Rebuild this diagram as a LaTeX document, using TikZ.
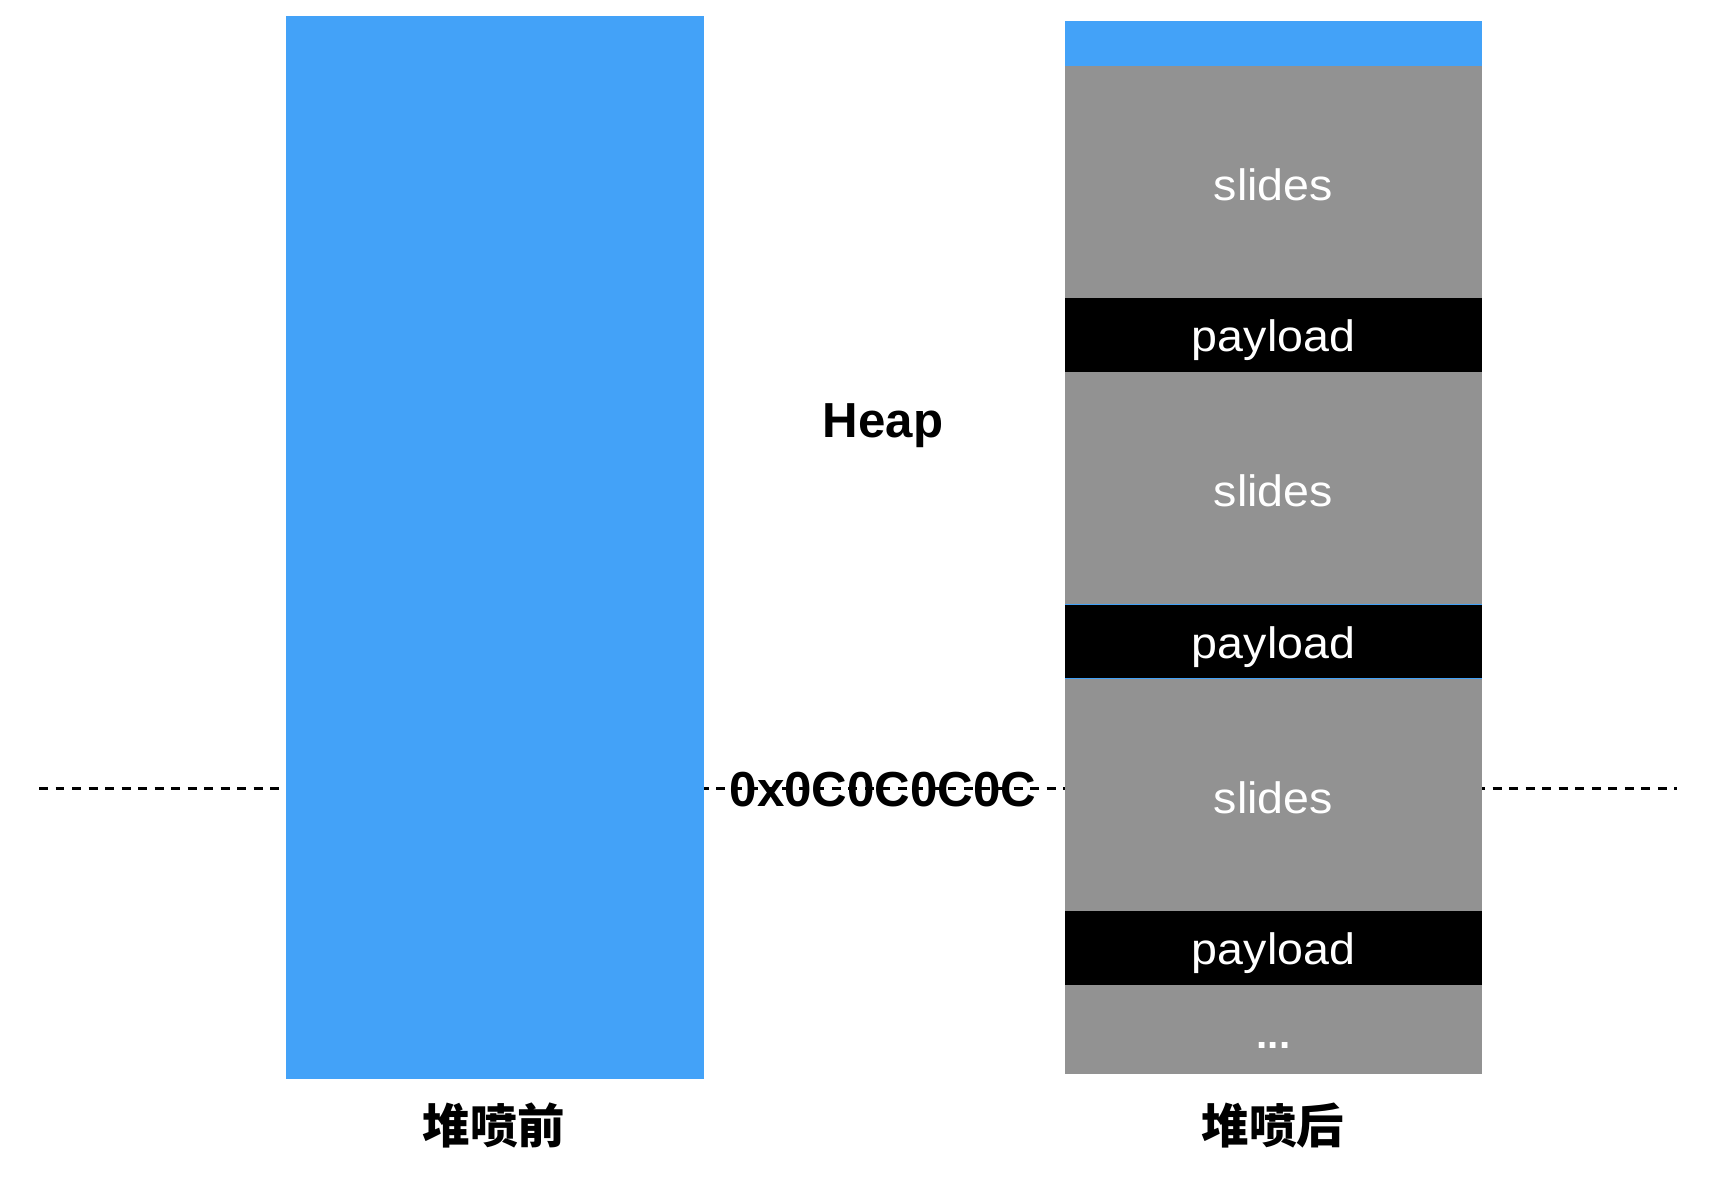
\documentclass[tikz,border=0pt]{standalone}
\usepackage{fontspec}
\setmainfont{Liberation Sans}
\newfontfamily\boxfont{Liberation Sans}[FakeStretch=1.06]
\newfontfamily\cjk{Noto Sans CJK SC}
\usetikzlibrary{positioning}
\definecolor{HeapBlue}{HTML}{43A2F8}
\definecolor{SlideGray}{HTML}{929292}
\tikzset{
  block/.style={inner sep=0pt,outer sep=0pt,minimum width=8.35cm,text=white,text depth=0pt,font=\boxfont\fontsize{25}{30}\selectfont},
  spray/.style={block,fill=HeapBlue},
  slides/.style={block,fill=SlideGray,minimum height=4.65cm,text height=0.73cm},
  payload/.style={block,fill=black,minimum height=1.48cm,text height=0.66cm},
  caption/.style={font=\cjk\bfseries\fontsize{27}{30}\selectfont},
  marker/.style={font=\bfseries\fontsize{28}{32}\selectfont}
}
\begin{document}
\begin{tikzpicture}
  \useasboundingbox (0,0) rectangle (34.28,-23.8);
  % labels in the gap
  \node[marker] (heap) at (17.66,-8.52) {Heap};
  \node[marker] (addr) at (17.66,-15.8) {0x0C0C0C0C};
  % address line, behind the columns
  \coordinate (lineL) at (0.78,-15.76);
  \coordinate (lineR) at (33.54,-15.76);
  \draw[line width=1.7pt,dash pattern=on 5.1pt off 4.3pt] (lineL) -- (lineR);
  % before spraying
  \node[spray,minimum width=8.36cm,minimum height=21.25cm] (before) at (9.9,-10.954) {};
  \node[caption] (capL) at (9.88,-22.5) {堆喷前};
  % after spraying
  \node[spray,minimum height=0.89cm,anchor=north] (top) at (25.47,-0.42) {};
  \node[slides,below=0pt of top] (s1) {slides};
  \node[payload,below=0pt of s1] (p1) {payload};
  \node[slides,below=0pt of p1] (s2) {slides};
  \node[payload,below=0pt of s2] (p2) {payload};
  \node[slides,below=0pt of p2] (s3) {slides};
  \node[payload,below=0pt of s3] (p3) {payload};
  \node[block,fill=SlideGray,minimum height=1.78cm,text height=0.74cm,font=\bfseries\fontsize{23}{28}\selectfont,below=0pt of p3] (rest) {...};
  \draw[HeapBlue,line width=0.6pt] (p2.north west) -- (p2.north east) (p2.south west) -- (p2.south east);
  \node[caption] (capR) at (25.46,-22.5) {堆喷后};
\end{tikzpicture}
\end{document}
